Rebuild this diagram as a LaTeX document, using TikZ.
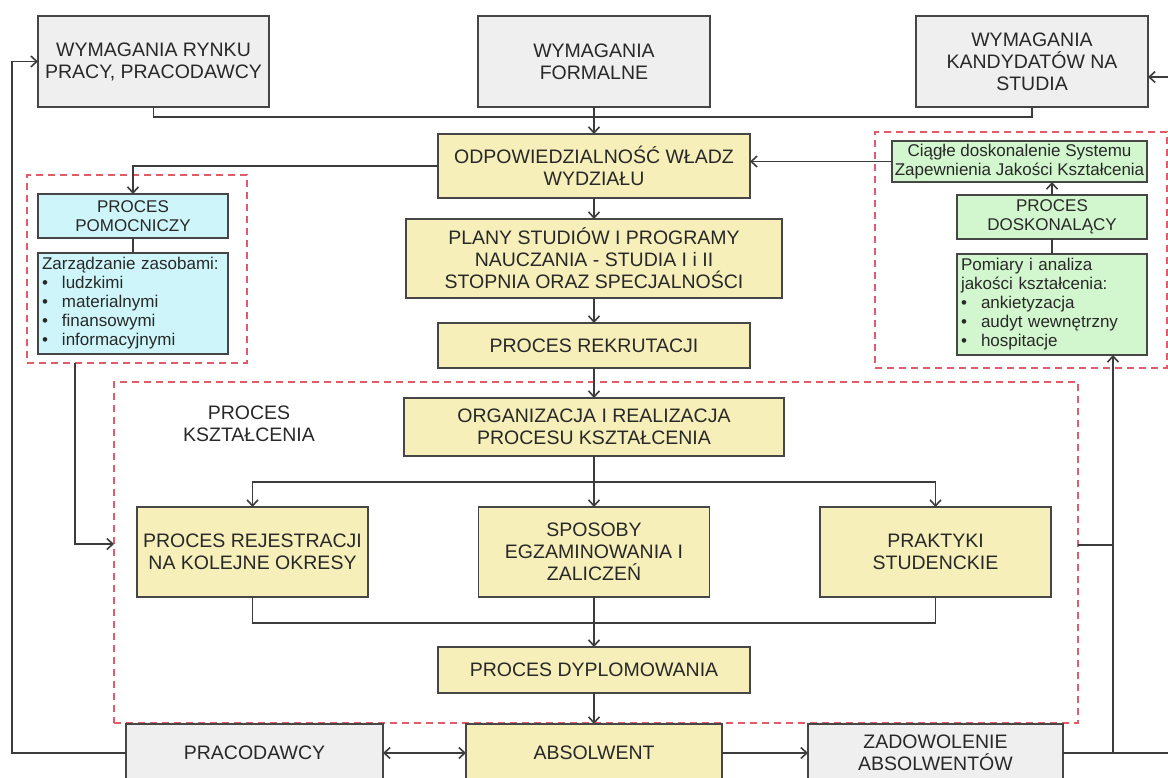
\documentclass[tikz,border=0pt]{standalone}
\usepackage{fontspec}
\setmainfont{Liberation Sans}
\usetikzlibrary{arrows.meta}
\definecolor{boxgrey}{RGB}{239,239,239}
\definecolor{boxyel}{RGB}{246,239,186}
\definecolor{boxcyan}{RGB}{206,246,250}
\definecolor{boxgreen}{RGB}{210,246,206}
\definecolor{edge}{RGB}{70,70,70}
\definecolor{ink}{RGB}{40,40,40}
\definecolor{dashred}{RGB}{224,92,104}
\tikzset{
  base/.style={draw=edge, line width=1.5pt, text=ink, align=center, inner sep=2pt, outer sep=0pt,
    font=\fontsize{19.5}{22}\selectfont},
  greybox/.style={base, fill=boxgrey},
  yelbox/.style={base, fill=boxyel},
  sidefont/.style={font=\fontsize{17}{19}\selectfont},
  cyanbox/.style={base, sidefont, fill=boxcyan},
  greenbox/.style={base, sidefont, fill=boxgreen},
  listbox/.style={align=left, inner sep=4pt},
  dashbox/.style={draw=dashred, line width=1.6pt, dash pattern=on 7pt off 5pt, inner sep=0pt, outer sep=0pt},
  conn/.style={draw=edge!85!black, line width=1.6pt},
  arr/.style={conn, -{Straight Barb[length=6pt,width=11pt]}},
  darr/.style={conn, {Straight Barb[length=6pt,width=11pt]}-{Straight Barb[length=6pt,width=11pt]}},
}
\newcommand{\bitem}[1]{\makebox[20pt][l]{•}#1}
\begin{document}
\begin{tikzpicture}[x=1pt,y=-1pt]
\useasboundingbox (0,0) rectangle (1168,778);

% dashed groups
\node[dashbox, minimum width=220, minimum height=188] (lgrp) at (137,269) {};
\node[dashbox, minimum width=292, minimum height=236] (rgrp) at (1021,250) {};
\node[dashbox, minimum width=964, minimum height=341] (kgrp) at (596,552.5) {};

% top row
\node[greybox, minimum width=231, minimum height=91] (rynek) at (153.5,61.5) {WYMAGANIA RYNKU\\PRACY, PRACODAWCY};
\node[greybox, minimum width=232, minimum height=91] (formal) at (594,61.5) {WYMAGANIA\\FORMALNE};
\node[greybox, minimum width=232, minimum height=91] (kand) at (1032,61.5) {WYMAGANIA\\KANDYDATÓW NA\\STUDIA};

% central column
\node[yelbox, minimum width=312, minimum height=64] (odp) at (594,166) {ODPOWIEDZIALNOŚĆ WŁADZ\\WYDZIAŁU};
\node[yelbox, minimum width=376, minimum height=79] (plany) at (594,258.5) {PLANY STUDIÓW I PROGRAMY\\NAUCZANIA - STUDIA I i II\\STOPNIA ORAZ SPECJALNOŚCI};
\node[yelbox, minimum width=312, minimum height=45] (rekr) at (594,345.5) {PROCES REKRUTACJI};
\node[yelbox, minimum width=380, minimum height=58] (org) at (594,427) {ORGANIZACJA I REALIZACJA\\PROCESU KSZTAŁCENIA};
\node[yelbox, minimum width=231, minimum height=90] (rej) at (252.5,552) {PROCES REJESTRACJI\\NA KOLEJNE OKRESY};
\node[yelbox, minimum width=231, minimum height=90] (spos) at (594,552) {SPOSOBY\\EGZAMINOWANIA I\\ZALICZEŃ};
\node[yelbox, minimum width=231, minimum height=90] (prak) at (935.5,552) {PRAKTYKI\\STUDENCKIE};
\node[yelbox, minimum width=312, minimum height=46] (dypl) at (594,670) {PROCES DYPLOMOWANIA};
\node[text=ink, align=center, font=\fontsize{19.5}{22}\selectfont] (kszt) at (249,424) {PROCES\\KSZTAŁCENIA};

% bottom row
\node[greybox, minimum width=257, minimum height=58] (prac) at (254.5,753) {PRACODAWCY};
\node[yelbox, minimum width=256, minimum height=58] (abs) at (594,753) {ABSOLWENT};
\node[greybox, minimum width=255, minimum height=58] (zad) at (935.5,753) {ZADOWOLENIE\\ABSOLWENTÓW};

% left group
\node[cyanbox, minimum width=190, minimum height=44] (pom) at (133,216) {PROCES\\POMOCNICZY};
\node[cyanbox, listbox, text width=182, minimum height=101] (zas) at (133,303.5)
  {Zarządzanie zasobami:\\\bitem{ludzkimi}\\\bitem{materialnymi}\\\bitem{finansowymi}\\\bitem{informacyjnymi}};

% right group
\node[greenbox, minimum width=255, minimum height=41, inner sep=1pt] (cia) at (1019.5,161.5) {Ciągłe doskonalenie Systemu\\Zapewnienia Jakości Kształcenia};
\node[greenbox, minimum width=190, minimum height=44] (dosk) at (1052,217) {PROCES\\DOSKONALĄCY};
\node[greenbox, listbox, text width=182, minimum height=101] (pomiar) at (1052,304.5)
  {Pomiary i analiza\\jakości kształcenia:\\\bitem{ankietyzacja}\\\bitem{audyt wewnętrzny}\\\bitem{hospitacje}};

% helper coordinates
\coordinate (top) at (594,117);
\coordinate (br) at (594,482);
\coordinate (mg) at (594,623);
\coordinate (lx) at (75,0);
\coordinate (kin) at (114,544);
\coordinate (rj) at (1113,753);
\coordinate (stub) at (1113,545);
\coordinate (lft) at (12,753);
\coordinate (rgt) at (1176,753);
\coordinate (kin2) at (1148,77);
\coordinate (rin) at (38,61.5);

% connectors
\draw[conn] (rynek.south) |- (top) -| (kand.south);
\draw[arr] (formal.south) -- (odp.north);
\draw[arr] (cia.west) -- (cia.west -| odp.east);
\draw[arr] (odp.west) -| (pom.north);
\draw[conn] (pom.south) -- (zas.north);
\draw[arr] (odp.south) -- (plany.north);
\draw[arr] (plany.south) -- (rekr.north);
\draw[arr] (rekr.south) -- (org.north);
\draw[conn] (org.south) -- (br);
\draw[arr] (br) -| (rej.north);
\draw[arr] (br) -| (prak.north);
\draw[arr] (br) -- (spos.north);
\draw[conn] (rej.south) |- (mg) -| (prak.south);
\draw[conn] (spos.south) -- (mg);
\draw[arr] (mg) -- (dypl.north);
\draw[arr] (dypl.south) -- (abs.north);
\draw[arr] (lgrp.south -| lx) |- (kin);
\draw[darr] (prac.east) -- (abs.west);
\draw[arr] (abs.east) -- (zad.west);
\draw[arr] (prac.west) -- (lft) |- (rin);
\draw[arr] (zad.east) -- (rgt) |- (kin2);
\draw[arr] (rj) -- (rj |- pomiar.south);
\draw[conn] (kgrp.east |- stub) -- (stub);
\draw[arr] (dosk.north) -- (dosk.north |- cia.south);
\draw[conn] (dosk.south) -- (pomiar.north);
\end{tikzpicture}
\end{document}
